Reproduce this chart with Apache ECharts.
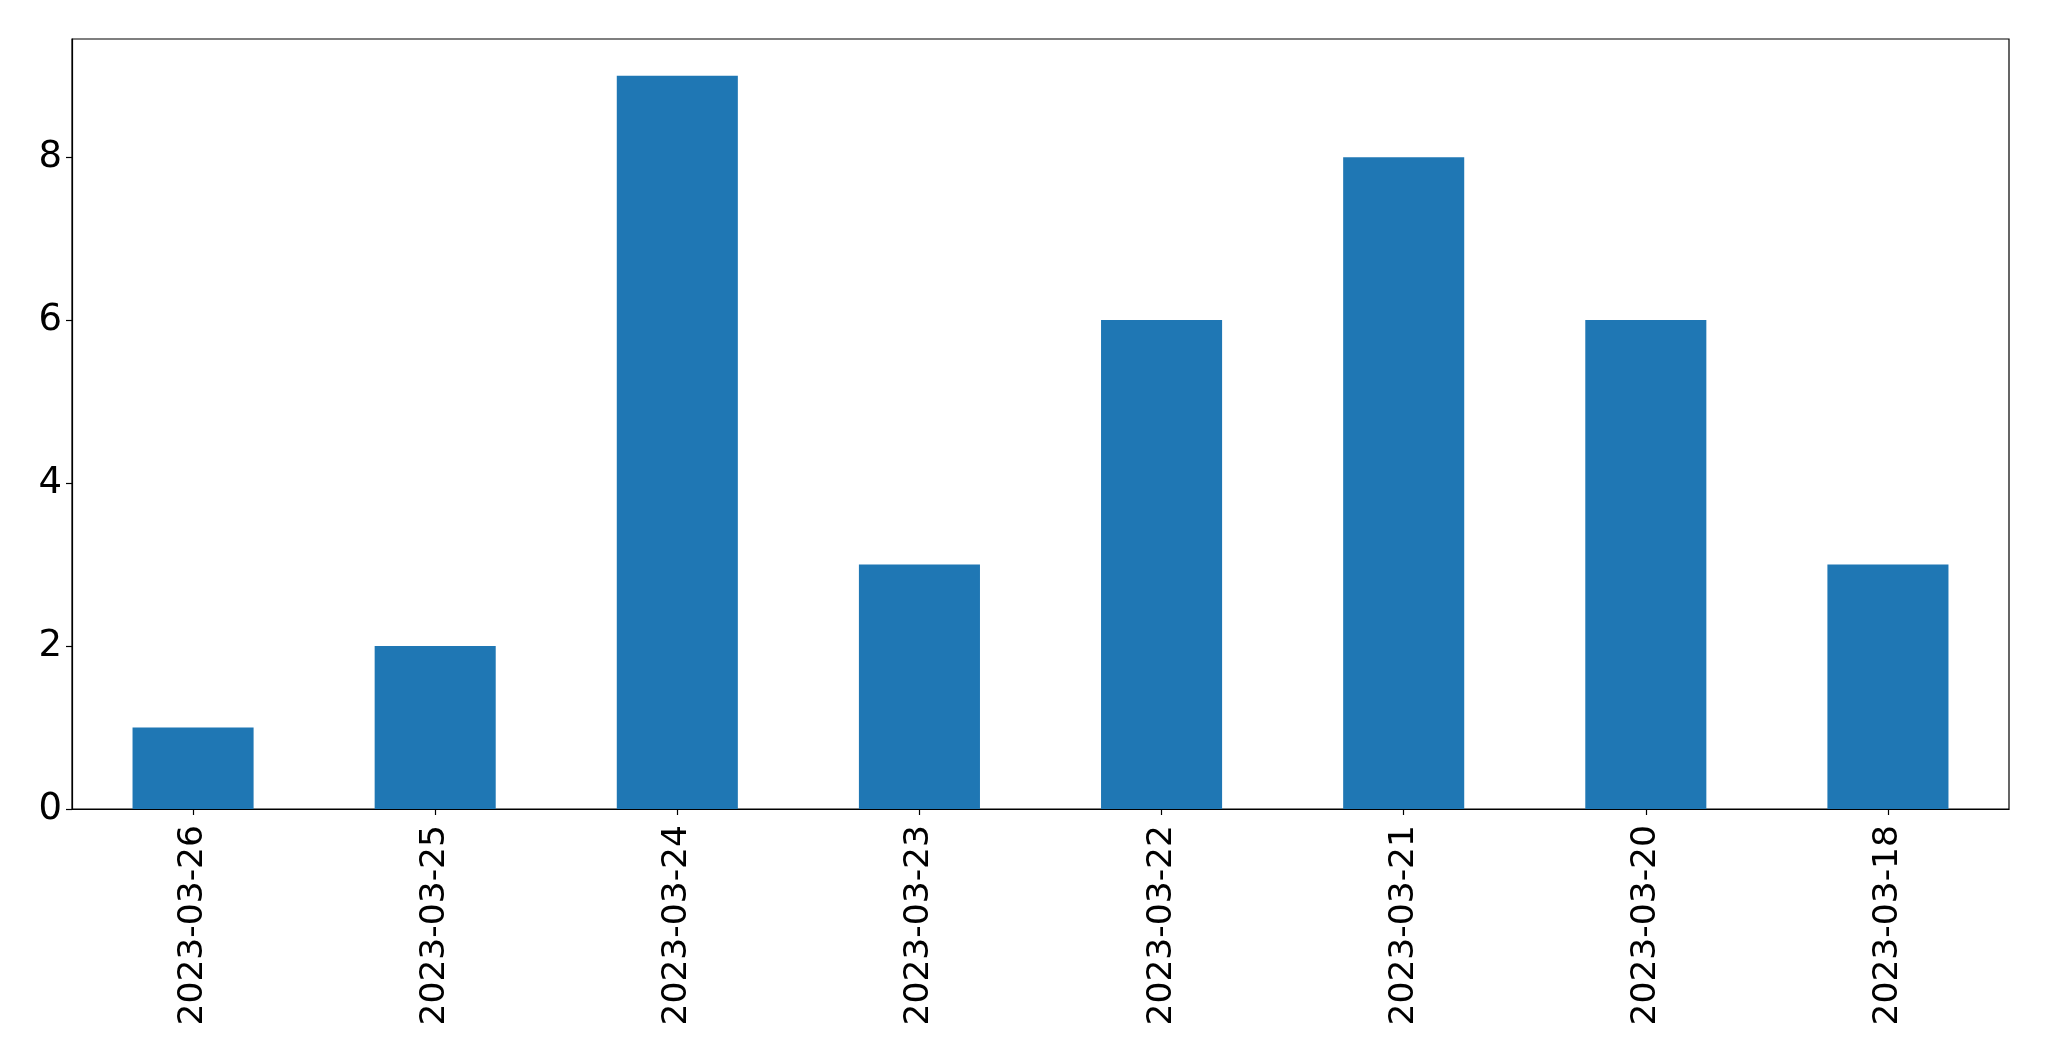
<!DOCTYPE html>
<html>
<head>
<meta charset="utf-8">
<script src="https://cdn.jsdelivr.net/npm/echarts@6/dist/echarts.min.js"></script>
<style>html,body{margin:0;padding:0;background:#fff;}#c{width:2049px;height:1061px;}</style>
</head>
<body>
<div id="c"></div>
<script>
const categories = ['2023-03-26','2023-03-25','2023-03-24','2023-03-23','2023-03-22','2023-03-21','2023-03-20','2023-03-18'];
const counts = [1, 2, 9, 3, 6, 8, 6, 3];
const yTicks = [0, 2, 4, 6, 8];

const chart = echarts.init(document.getElementById('c'));
const font = 'DejaVu Sans';
chart.setOption({
  animation: false,
  backgroundColor: '#ffffff',
  grid: {
    left: 72, right: 40, top: 39, bottom: 252,
    show: true, borderColor: '#000', borderWidth: 1.2, backgroundColor: 'transparent'
  },
  xAxis: {
    type: 'category',
    data: categories,
    axisLine: { show: true, lineStyle: { color: '#000', width: 1.2 } },
    axisTick: { show: true, alignWithLabel: true, length: 6, lineStyle: { color: '#000', width: 1.2 } },
    axisLabel: { rotate: 90, margin: 16, color: '#000', fontFamily: font, fontSize: 34.5, interval: 0 },
    splitLine: { show: false }
  },
  yAxis: {
    type: 'value',
    min: 0, max: 9.45, interval: 2,
    axisLine: { show: true, lineStyle: { color: '#000', width: 1.2 } },
    axisTick: { show: true, length: 6, lineStyle: { color: '#000', width: 1.2 }, customValues: yTicks },
    axisLabel: { margin: 10, color: '#000', fontFamily: font, fontSize: 37, padding: [6, 0, 0, 0], customValues: yTicks },
    splitLine: { show: false }
  },
  series: [{
    type: 'bar',
    data: counts,
    barWidth: '50%',
    itemStyle: { color: '#1f77b4' }
  }]
});
</script>
</body>
</html>
